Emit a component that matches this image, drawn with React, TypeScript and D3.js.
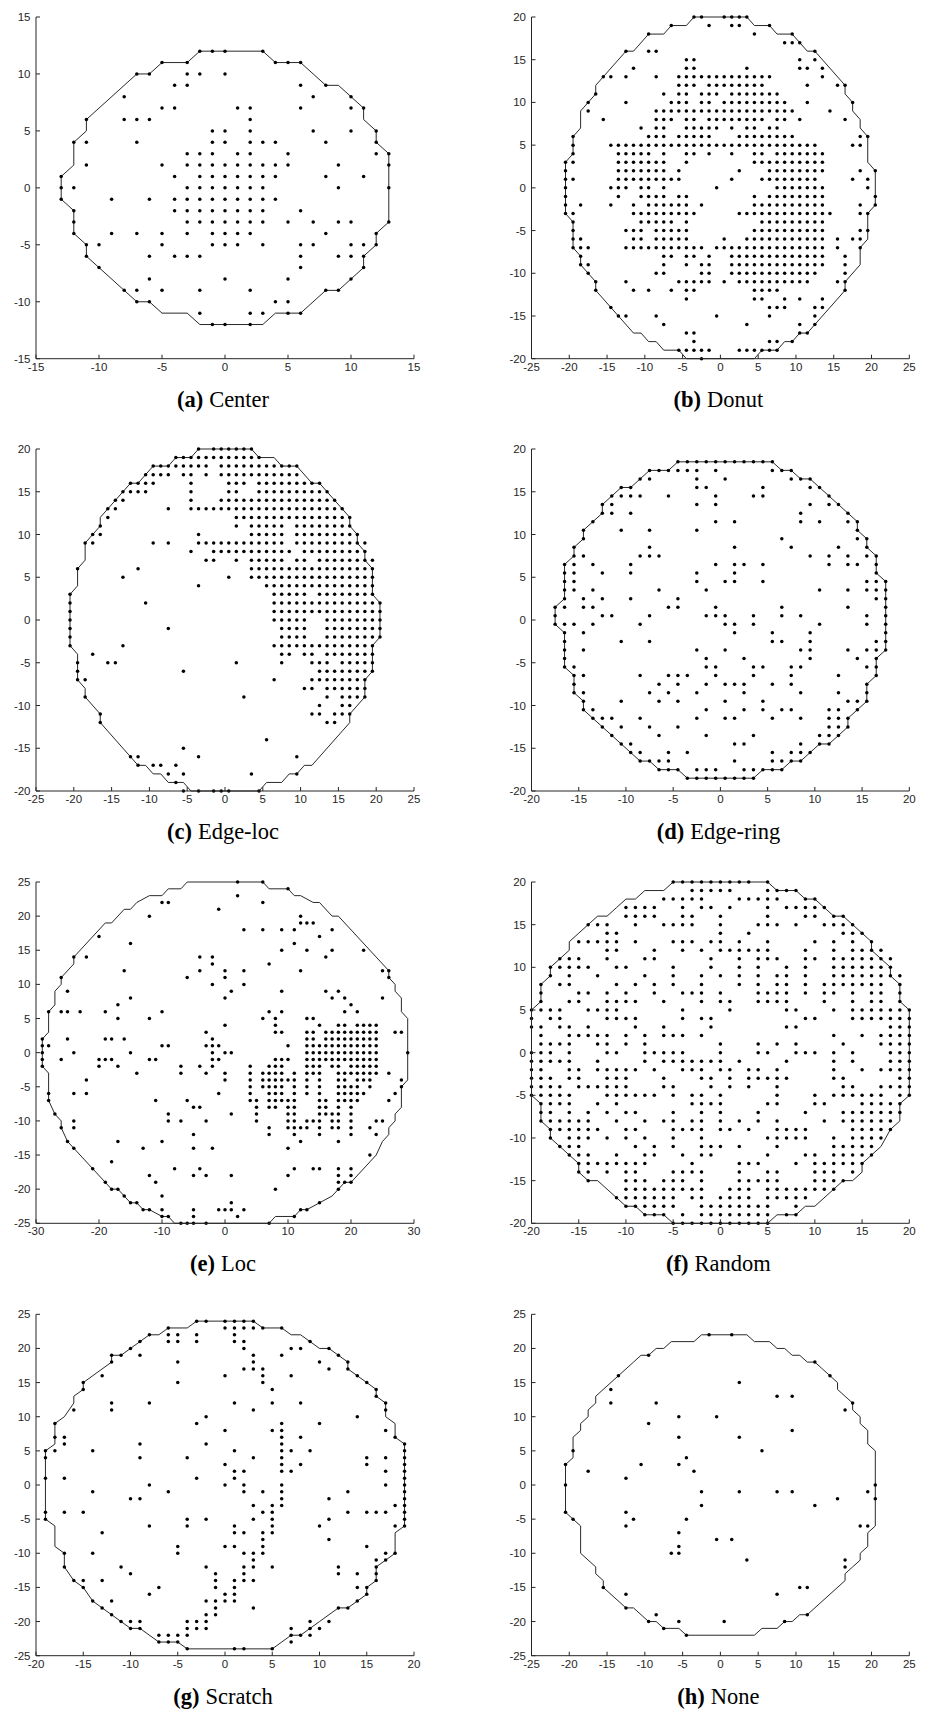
import React from "react";
import * as d3 from "d3";

type Row = [number, string];
type Pt = [number, number];

// tick values
const ticks15 = [-15, -10, -5, 0, 5, 10, 15];
const ticks20 = [-20, -15, -10, -5, 0, 5, 10, 15, 20];
const ticks25 = [-25, -20, -15, -10, -5, 0, 5, 10, 15, 20, 25];
const ticks30 = [-30, -20, -10, 0, 10, 20, 30];

// failing dies, one row per y value; "a..b" = a run of neighbouring dies
const centerRows: Row[] = [
  [12, "-2,-1,0,3"], [11, "-5,-3,4,5,6"], [10, "-7,-6,-3,-2,0"], [9, "-4,-3,6,8"],
  [8, "-8,7,10"], [7, "-5,-4,1,2,6,10,11"], [6, "-11,-8,-7,-6,2"], [5, "-1,0,2,7,10,12"],
  [4, "-12,-11,-7,-1,0,2,3,4,8,12"], [3, "-3,-2,-1,1,2,5,12,13"], [2, "-11,-5,-3..5,9,13"],
  [1, "-13,-4,-2..4,8,11"], [0, "-13,-12,-3..3,9,13"], [-1, "-13,-9,-6,-4..4"],
  [-2, "-12,-4..3,6"], [-3, "-12,-3..3,5,7,9,10,13"], [-4, "-12,-9,-7,-5,-3,-1,0,1,2,8,12"],
  [-5, "-11,-10,-5,-1,0,1,3,6,7,10,11,12"], [-6, "-11,-6,-4,-3,-2,6,9,10,11"], [-7, "-10,6,11"],
  [-8, "-6,0,5,10"], [-9, "-8,-7,-5,-2,2,8,9"], [-10, "-7,-6,4,5"], [-11, "-2,2,3,5,6"], [-12, "-1,0,2"],
];

const donutRows: Row[] = [
  [20, "-3.5,-2.5,0.5,1.5,2.5,3.5"], [19, "-6.5,-1.5,1.5,2.5,6.5"], [18, "-9.5,4.5,9.5"],
  [17, "8.5,9.5,10.5"], [16, "-12.5,-9.5,-8.5,12.5"], [15, "-4.5,-3.5,10.5,12.5"],
  [14, "-11.5,-4.5,-3.5,3.5,10.5,11.5,13.5"], [13, "-15.5,-14.5,-12.5,-8.5,-5.5..6.5,13.5"],
  [12, "-5.5,-4.5,-3.5,-1.5..5.5,11.5,15.5,16.5"], [11, "-16.5,-7.5,-5.5,-4.5,-2.5,-1.5,-0.5,1.5..7.5"],
  [10, "-17.5,-12.5,-6.5,-5.5,-4.5,-2.5,-1.5,0.5..8.5,11.5,17.5"], [9, "-17.5,-8.5..9.5,14.5"],
  [8, "-15.5,-8.5,-7.5,-6.5,-4.5,-3.5,-1.5..5.5,7.5,8.5,10.5,16.5"],
  [7, "-10.5,-8.5,-7.5,-4.5,-3.5,-2.5,-1.5,-0.5,1.5,3.5,4.5,6.5,7.5"],
  [6, "-19.5,-9.5,-8.5,-7.5,-5.5..-1.5,2.5..9.5,18.5,19.5"], [5, "-19.5,-14.5..12.5,17.5,18.5"],
  [4, "-19.5,-13.5..-9.5,-7.5,-4.5,-3.5,-1.5,1.5,4.5,5.5,7.5..13.5"],
  [3, "-20.5,-19.5,-13.5..-7.5,-4.5,4.5..13.5"], [2, "-20.5,-13.5..-7.5,-5.5,2.5,6.5..13.5,18.5,20.5"],
  [1, "-20.5,-19.5,-13.5..-5.5,1.5,5.5..12.5,17.5,19.5"],
  [0, "-20.5,-14.5,-13.5,-12.5,-10.5,-9.5,-7.5,-0.5,7.5..13.5,19.5"],
  [-1, "-20.5,-13.5,-10.5..-7.5,-5.5,-4.5,4.5,6.5..13.5,20.5"],
  [-2, "-20.5,-18.5,-14.5,-11.5,-9.5..-4.5,-2.5,4.5..13.5,18.5,20.5"],
  [-3, "-20.5,-19.5,-11.5..-3.5,2.5..14.5,18.5,19.5"], [-4, "-19.5,-10.5..-6.5,-4.5,5.5..13.5"],
  [-5, "-19.5,-12.5,-11.5,-10.5,-8.5..-4.5,4.5..13.5,18.5,19.5"],
  [-6, "-19.5,-18.5,-11.5,-10.5,-8.5..-4.5,0.5,3.5..13.5,15.5,17.5,18.5"],
  [-7, "-19.5,-18.5,-17.5,-12.5..-2.5,-0.5..13.5,15.5,18.5"],
  [-8, "-18.5,-7.5,-6.5,-4.5,-3.5,-1.5,1.5..13.5,16.5"],
  [-9, "-18.5,-17.5,-7.5,-4.5,-2.5,-1.5,1.5..13.5,16.5"],
  [-10, "-17.5,-8.5,-7.5,-2.5,-1.5,1.5..12.5,16.5"],
  [-11, "-16.5,-12.5,-5.5..-1.5,0.5,2.5..11.5,15.5,16.5"],
  [-12, "-16.5,-11.5,-9.5,-6.5,-4.5,-3.5,4.5..7.5,16.5"], [-13, "-4.5,4.5,5.5,8.5,10.5,13.5"],
  [-14, "-14.5,6.5,7.5,8.5,12.5,13.5"], [-15, "-13.5,-12.5,-8.5,-0.5,6.5,12.5"],
  [-16, "-7.5,3.5,10.5,12.5"], [-17, "-4.5,-3.5,10.5,11.5"], [-18, "-3.5,6.5,7.5,9.5"],
  [-19, "-5.5..-1.5,2.5..7.5"], [-20, "-2.5"],
];

const edgeLocRows: Row[] = [
  [20, "-3.5,-1.5..3.5"], [19, "-6.5..4.5"], [18, "-9.5..-2.5,-0.5..9.5"],
  [17, "-10.5..-7.5,-5.5,-4.5,-2.5,-0.5..9.5"], [16, "-12.5..-9.5,-4.5,0.5,1.5,2.5,4.5..12.5"],
  [15, "-13.5..-10.5,-4.5,0.5,1.5,4.5..13.5"], [14, "-14.5,-13.5,-4.5,-0.5..14.5"],
  [13, "-15.5,-14.5,-7.5,-4.5..15.5"], [12, "-15.5,1.5..16.5"], [11, "-16.5,1.5,3.5..7.5,9.5..16.5"],
  [10, "-17.5,-16.5,-3.5,3.5..7.5,9.5..17.5"], [9, "-18.5,-17.5,-9.5,-7.5,-3.5..7.5,9.5..18.5"],
  [8, "-4.5,-1.5..8.5,10.5..18.5"], [7, "-2.5,-1.5,1.5,3.5..7.5,9.5,10.5,12.5..19.5"],
  [6, "-19.5,-11.5,3.5..19.5"], [5, "-13.5,0.5,3.5..19.5"], [4, "-3.5,5.5..19.5"],
  [3, "-20.5,6.5..10.5,12.5..19.5"], [2, "-20.5,-10.5,6.5..20.5"], [1, "-20.5,6.5..20.5"],
  [0, "-20.5,6.5..10.5,13.5..20.5"], [-1, "-20.5,-7.5,7.5..10.5,13.5..20.5"],
  [-2, "-20.5,7.5..10.5,13.5..20.5"], [-3, "-20.5,-13.5,6.5..19.5"],
  [-4, "-17.5,7.5,8.5,10.5,11.5,13.5..19.5"], [-5, "-19.5,-15.5,-14.5,1.5,7.5,11.5..13.5,15.5..19.5"],
  [-6, "-19.5,-5.5,12.5..19.5"], [-7, "-19.5,-18.5,6.5,11.5..18.5"], [-8, "10.5,11.5,13.5..18.5"],
  [-9, "-18.5,2.5,13.5,15.5..18.5"], [-10, "12.5,15.5,16.5"], [-11, "-16.5,11.5,12.5,14.5,15.5,16.5"],
  [-12, "-16.5,13.5,14.5"], [-14, "5.5"], [-15, "-5.5"], [-16, "-12.5,-11.5,-3.5,9.5"],
  [-17, "-11.5,-9.5,-8.5,-6.5"], [-18, "-7.5,-5.5,3.5,9.5"], [-19, "-6.5"],
  [-20, "-5.5,-3.5,-1.5,-0.5,0.5,4.5"],
];

const edgeRingRows: Row[] = [
  [18.5, "-4.5..5.5"], [17.5, "-7.5..-2.5,-0.5,5.5,6.5,7.5"], [16.5, "-8.5,-7.5,-2.5,0.5,7.5,8.5,9.5"],
  [15.5, "-10.5,-9.5,-2.5,-1.5,4.5,9.5,10.5"], [14.5, "-11.5..-8.5,-5.5,-0.5,3.5,4.5,11.5"],
  [13.5, "-12.5,-11.5,-2.5,-0.5,9.5,11.5,12.5"], [12.5, "-12.5,-11.5,-9.5,8.5,13.5"],
  [11.5, "-13.5,-0.5,1.5,8.5,10.5,13.5,14.5"], [10.5, "-14.5,-10.5,-7.5,-2.5,14.5"],
  [9.5, "-14.5,6.5,14.5,15.5"], [8.5, "-15.5,-7.5,1.5,7.5,12.5,15.5"],
  [7.5, "-15.5,-14.5,-8.5,-7.5,-6.5,9.5,11.5,13.5,15.5,16.5"],
  [6.5, "-16.5,-15.5,-13.5,-9.5,-0.5,1.5,2.5,4.5,11.5,13.5,14.5,16.5"],
  [5.5, "-16.5,-15.5,-12.5,-9.5,-2.5,1.5,16.5"], [4.5, "-16.5,-15.5,-2.5,0.5,1.5,4.5,15.5,16.5,17.5"],
  [3.5, "-16.5,-15.5,-13.5,-6.5,-1.5,10.5,13.5,15.5,16.5,17.5"],
  [2.5, "-16.5,-14.5,-12.5,-9.5,-4.5,16.5,17.5"],
  [1.5, "-17.5,-16.5,-14.5,-13.5,-5.5,-4.5,-0.5,6.5,13.5,17.5"],
  [0.5, "-17.5,-12.5,-11.5,-7.5,-1.5,-0.5,0.5,3.5,6.5,8.5,15.5,17.5"],
  [-0.5, "-17.5,-16.5,-15.5,-13.5,-8.5,0.5,1.5,3.5,10.5,15.5,17.5"],
  [-1.5, "-16.5,-14.5,1.5,5.5,9.5,17.5"], [-2.5, "-16.5,-10.5,-7.5,5.5,6.5,9.5,16.5,17.5"],
  [-3.5, "-16.5,-14.5,-2.5,0.5,8.5,9.5,13.5,15.5,16.5,17.5"], [-4.5, "-16.5,-1.5,2.5,9.5,14.5,16.5"],
  [-5.5, "-16.5,-15.5,-1.5,-0.5,3.5,4.5,7.5,8.5,15.5,16.5"],
  [-6.5, "-15.5,-14.5,-8.5,-5.5,-4.5,-3.5,-0.5,3.5,7.5,12.5,16.5"],
  [-7.5, "-15.5,-6.5,-4.5,-1.5,0.5,1.5,2.5,5.5,7.5,15.5"],
  [-8.5, "-15.5,-14.5,-7.5,-5.5,-2.5,2.5,8.5,12.5,15.5"],
  [-9.5, "-14.5,-10.5,-6.5,-4.5,0.5,4.5,13.5,14.5,15.5"],
  [-10.5, "-14.5,-13.5,-1.5,2.5,4.5,6.5,7.5,11.5,12.5,14.5"],
  [-11.5, "-13.5,-12.5,-11.5,-8.5,-2.5,0.5,1.5,5.5,8.5,11.5,12.5,13.5"],
  [-12.5, "-12.5,-10.5,-7.5,-4.5,11.5,12.5,13.5"], [-13.5, "-11.5,-6.5,-1.5,3.5,10.5,11.5,12.5"],
  [-14.5, "-10.5,-9.5,1.5,2.5,8.5,10.5,11.5"], [-15.5, "-9.5,-8.5,-5.5,-3.5,5.5,7.5,8.5,9.5"],
  [-16.5, "-8.5..-5.5,1.5,5.5..8.5"], [-17.5, "-6.5,-5.5,-4.5,-2.5,-1.5,-0.5,2.5..6.5"],
  [-18.5, "-3.5..3.5"],
];

const locRows: Row[] = [
  [25, "2,6"], [24, "10"], [23, "2"], [22, "-10,-9,6"], [21, "-1"], [20, "-12,12"], [19, "12,13,14"],
  [18, "3,6,9,11,17"], [17, "-20,15"], [16, "-15,11"], [15, "9,13,17,22"], [14, "-24,-22,-4,-2,16"],
  [13, "-2,7"], [12, "-16,-4,0,3,12,25,26"], [11, "-26,-6,0,26"], [10, "-2,3"], [9, "-25,1,9,16,18"],
  [8, "-15,0,17,19,25"], [7, "-17,20"], [6, "-28,-26,-25,-23,-19,-10,7,9,19,21"],
  [5, "-17,-12,6,8,13,14"], [4, "0,8,15,18,19,21..24"], [3, "-3,8,9,13,14,16..24,27,28"],
  [2, "-29,-25,-19,-18,-16,-2,13,14,16..24"], [1, "-29,-28,-10,-9,-3,-2,-1,10,13..24"],
  [0, "-29,-24,-15,-2,0,1,13..24,29"], [-1, "-29,-26,-20,-19,-18,-12,-11,-2,-1,8,9,10,13..24"],
  [-2, "-29,-20,-17,-7,-4,-2,4,7,8,9,13,14,15,17,18,20..24"],
  [-3, "-14,-7,-3,0,4,6..9,11,13,14,15,18..24,26"], [-4, "-22,0,4,6..11,13,15,18,19,21,22,23,28"],
  [-5, "4,6..9,11,13,15,18..21,23,28"], [-6, "-28,-24,-22,-1,4,7,8,9,11,13,15,18..22,27"],
  [-7, "-28,-11,-6,4,5,7..11,15,16,18..21,26"], [-8, "-5,-4,5,7,8,10,11,15,16,18,20"],
  [-9, "-27,-9,1,5,10,11,15..18,20"], [-10, "-24,-9,-7,-3,5,10,11,13,14,15,17,18,20,24,25"],
  [-11, "-26,-24,7,10..13,15,17,18,20,23"], [-12, "-5,7,11,15,20,24"], [-13, "-25,-17,-10,12,18"],
  [-14, "-24,-13,-5,-2,10"], [-15, "23"], [-16, "-18"], [-17, "-21,-8,-4,11,14,15,18,20"],
  [-18, "-12,-5,-3,1,10,18,20"], [-19, "-19,-11,18,19,20"], [-20, "-18,-17,8,18"], [-21, "-16,-10"],
  [-22, "-15,-14,1,15"], [-23, "-13,-12,-10,-5,-1,0,1,3,12,13"], [-24, "-10,-9,-5,2,11"],
  [-25, "-7,-6,-5,-3,7"],
];

const randomRows: Row[] = [
  [20, "-5..3,5"], [19, "-3..1,5..8"], [18, "-6..-2,2..6,9,10"], [17, "-10..-7,-4,-2,-1,1,5,7..11"],
  [16, "-10..-7,-4,-3,0,5,9,10,12,13"], [15, "-14,-13,-12,-9,-6..-3,0,4,5,6,8,11..14"],
  [14, "-12,-11,0,3,13,14,15"], [13, "-15..-11,-9,-5,-4,-3,-1,0,2,5,10,12,14,16"],
  [12, "-12,-11,-7,-4,-2,0..5,9,12,14..17"], [11, "-17,-16,-15,-12,-8,-7,-1,2,4,5,6,9,10,12..18"],
  [10, "-18..-14,-11,-10,-5,-1,2,4,7,9,12..18"], [9, "-18,-16,-13,-8,-5,-2,0,2,4,6,7,9,12..19"],
  [8, "-19,-17,-16,-11,-9,-7,-5,-2,2,4,6,7,9,11..17,19"],
  [7, "-19,-15,-14,-12,-10,-7,-4,-3,-2,0,4..7,9,11,12,14,16,17,19"],
  [6, "-19,-16,-15,-12..-9,-6,-2,0,1,4..7,11,14,16,17,19"],
  [5, "-20..-17,-14..-11,-4,1,7,8,12,14..20"], [4, "-20,-18,-17,-12..-9,-4,-2,-1,9,10,14..20"],
  [3, "-20,-19,-17,-16,-14,-9,-6,-1,7,8,18,19,20"],
  [2, "-19,-16..-12,-10,-8,-6,-5,-4,-2,12,15,17..20"], [1, "-19..-16,-13,-12,-10,-8,0,4,6,8,13,17..20"],
  [0, "-20,-19,-18,-16,-12,-11,-8..-4,0,4,5,8,9,10,12,14,18,19,20"],
  [-1, "-20..-16,-13,-8,-6..0,2,7,12,14,18,19,20"],
  [-2, "-20,-19,-16,-15,-13..-9,-7,-4,-3,-2,0,1,3,4,6,12,15,17..20"],
  [-3, "-20,-19,-18,-16,-15,-12,-11,-10,-6,-2,-1,1,3..7,12,13,19,20"],
  [-4, "-20..-17,-15..-10,-6,-5,-1,1,3,6,13,14,17..20"],
  [-5, "-20..-16,-12..-7,-5,-3,-2,0,6,10,12..17,19,20"],
  [-6, "-19..-16,-13,-11,-3..0,5,6,10,11,15..19"],
  [-7, "-19,-18,-16,-14,-12,-10,-9,-5,-2,0,4,9,13..19"],
  [-8, "-19..-14,-11,-8,-6,-5,-3,-2,0,2,4,6,11,13..18"],
  [-9, "-18..-13,-10,-9,-5..-2,0,1,3,6..9,14..18"], [-10, "-18,-16,-15,-14,-12,-10,-8,-5,-2,5..9,12,14..17"],
  [-11, "-17,-16,-15,-9,-7,-5,-2,-1,0,2,6,12..16"], [-12, "-16,-15,-14,-11,-8,-7,-4,-2,-1,5,9,10,12..16"],
  [-13, "-15..-8,-3,2,3,4,8,10..15"], [-14, "-15,-14,-12,-10,-9,-5..-2,2,5,6,10,11,12,14"],
  [-15, "-14,-10,-9,-8,-6,-5,-4,-2,2..6,10..13"], [-16, "-10..-4,-3,-2,1,2,3,5..12"],
  [-17, "-11..-5,-3,-2,0..3,5..9"], [-18, "-10..-5,-2..5,8"], [-19, "-8,-7,-6,-4,-2..5,7,8"],
  [-20, "-5..5"],
];

const scratchRows: Row[] = [
  [24, "-3,-2,0,1,2,3"], [23, "-6,0,1,2,3,4,6"], [22, "-8,-6,-5,-3,1"], [21, "-9,-6,-5,-3,1,2,9"],
  [20, "-10,2,7,8,11"], [19, "-12,-11,-9,3,6,12"], [18, "-12,-5,3,10,13"], [17, "2,3,4,11,13"],
  [16, "-13,0,4,7,14"], [15, "-15,-5,4,15"], [14, "-15,5,16"], [13, "16"], [12, "-12,-8,1,5,8,17"],
  [11, "-16,-12,3,17"], [10, "-2,14"], [9, "-18,-3,6,10"], [8, "0,5,6,17"], [7, "-18,-17,6,8,18"],
  [6, "-17,-9,-2,6,19"], [5, "-19,-18,-14,1,6,7,9,19"], [4, "-19,-9,-4,3,6,15,17,19"],
  [3, "0,6,8,15,19"], [2, "1,2,6,7,17,19"], [1, "-19,-17,-3,1,19"], [0, "-8,0,2,6,17,19"],
  [-1, "-14,-6,2,4,6,13,19"], [-2, "-10,-9,6,11,19"], [-3, "3,5,6,18,19"],
  [-4, "-19,-17,-15,4,5,13,15,16,17,19"], [-5, "-19,-4,-2,3,5,11,19"], [-6, "-8,-4,1,5,10,18,19"],
  [-7, "-13,1,2,4,5"], [-8, "4,11"], [-9, "-5,0,1,4,15"], [-10, "-17,-14,-5,2,3,4,17,18"],
  [-11, "3,16,17"], [-12, "-17,-11,-2,2,3,5,12,16"], [-13, "-10,-1,2,12,14,16"],
  [-14, "-16,-15,-13,-1,1,2,3,16"], [-15, "-15,-7,-1,1,14,15"], [-16, "-8,0,1,15"],
  [-17, "-14,-12,-2,-1,0,1,14"], [-18, "-13,-1,3,12,13"], [-19, "-12,-2,-1"],
  [-20, "-11,-10,-9,-4,-3,-2,9,11"], [-21, "-10,-9,-4,-3,-2,7,9,10"], [-22, "-7,-6,-5,-4,7,8,9"],
  [-23, "-7,-6,-5,7"], [-24, "-4,1,2,5"],
];

const noneRows: Row[] = [
  [22, "-1.5,1.5"], [19, "-9.5"], [18, "12.5"], [16, "-13.5,14.5"], [15, "2.5"], [14, "-14.5"],
  [13, "7.5,9.5"], [12, "-14.5,-8.5,17.5"], [11, "16.5"], [10, "-5.5,-0.5"], [9, "-9.5"], [8, "9.5"],
  [7, "-5.5,2.5"], [5, "-19.5,5.5"], [4, "-4.5"], [3, "-20.5,-10.5,-5.5"], [2, "-17.5,-3.5"],
  [1, "-12.5"], [0, "-20.5,20.5"], [-1, "-2.5,2.5,7.5,9.5,19.5"], [-2, "15.5,20.5"], [-3, "-2.5,12.5"],
  [-4, "-20.5,-12.5"], [-5, "-19.5,-11.5,-4.5"], [-6, "-12.5,18.5,19.5"], [-7, "-5.5"],
  [-8, "-0.5,1.5"], [-9, "-5.5"], [-10, "-6.5,-5.5"], [-11, "3.5,16.5"], [-12, "16.5"],
  [-15, "-15.5,10.5,11.5"], [-16, "-12.5,7.5"], [-18, "-12.5"], [-19, "-8.5,11.5"],
  [-20, "-9.5,-5.5,0.5,8.5"], [-21, "-7.5"], [-22, "-4.5"],
];

// wafer outlines
const centerOutline: Pt[] = [
  [-2, 12], [3, 12], [4, 11], [6, 11], [8, 9], [9, 9], [10, 8], [11, 7], [11, 6], [12, 5], [12, 4], [13, 3],
  [13, -3], [12, -4], [12, -5], [11, -6], [11, -7], [10, -8], [9, -9], [8, -9], [6, -11], [4, -11], [3, -12],
  [-2, -12], [-3, -11], [-5, -11], [-6, -10], [-7, -10], [-8, -9], [-10, -7], [-11, -6], [-11, -5], [-12, -4],
  [-12, -2], [-13, -1], [-13, 1], [-12, 2], [-12, 4], [-11, 5], [-11, 6], [-7, 10], [-6, 10], [-5, 11], [-3, 11],
];

const wafer41Outline: Pt[] = [
  [-3.5, 20], [3.5, 20], [4.5, 19], [6.5, 19], [7.5, 18], [9.5, 18], [11.5, 16], [12.5, 16], [16.5, 12],
  [16.5, 11], [17.5, 10], [17.5, 9], [18.5, 8], [18.5, 7], [19.5, 6], [19.5, 3], [20.5, 2], [20.5, -2],
  [19.5, -3], [19.5, -6], [18.5, -7], [18.5, -9], [16.5, -11], [16.5, -12], [11.5, -17], [10.5, -17],
  [9.5, -18], [8.5, -18], [7.5, -19], [5.5, -19], [4.5, -20], [-4.5, -20], [-5.5, -19], [-7.5, -19],
  [-8.5, -18], [-9.5, -18], [-10.5, -17], [-11.5, -17], [-16.5, -12], [-16.5, -11], [-18.5, -9],
  [-18.5, -8], [-19.5, -7], [-19.5, -4], [-20.5, -3], [-20.5, 3], [-19.5, 4], [-19.5, 6], [-18.5, 7],
  [-18.5, 9], [-17.5, 10], [-16.5, 11], [-16.5, 12], [-15.5, 13], [-12.5, 16], [-11.5, 16], [-9.5, 18],
  [-7.5, 18], [-6.5, 19], [-4.5, 19],
];

const edgeRingOutline: Pt[] = [
  [-4.5, 18.5], [5.5, 18.5], [6.5, 17.5], [7.5, 17.5], [8.5, 16.5], [9.5, 16.5], [13.5, 12.5], [14.5, 11.5],
  [14.5, 10.5], [15.5, 9.5], [15.5, 8.5], [16.5, 7.5], [16.5, 5.5], [17.5, 4.5], [17.5, -3.5], [16.5, -4.5],
  [16.5, -6.5], [15.5, -7.5], [15.5, -9.5], [14.5, -10.5], [13.5, -11.5], [13.5, -12.5], [11.5, -14.5],
  [10.5, -14.5], [8.5, -16.5], [7.5, -16.5], [6.5, -17.5], [4.5, -17.5], [3.5, -18.5], [-3.5, -18.5],
  [-4.5, -17.5], [-6.5, -17.5], [-7.5, -16.5], [-8.5, -16.5], [-14.5, -10.5], [-14.5, -9.5], [-15.5, -8.5],
  [-15.5, -6.5], [-16.5, -5.5], [-16.5, -1.5], [-17.5, -0.5], [-17.5, 1.5], [-16.5, 2.5], [-16.5, 6.5],
  [-15.5, 7.5], [-15.5, 8.5], [-14.5, 9.5], [-14.5, 10.5], [-13.5, 11.5], [-12.5, 12.5], [-12.5, 13.5],
  [-10.5, 15.5], [-9.5, 15.5], [-7.5, 17.5], [-5.5, 17.5],
];

const locOutline: Pt[] = [
  [-6, 25], [6, 25], [7, 24], [10, 24], [11, 23], [12, 23], [14, 22], [15, 22], [17, 20], [18, 20], [26, 12],
  [26, 11], [27, 10], [27, 9], [28, 8], [28, 6], [29, 5], [29, -4], [28, -5], [28, -8], [27, -9], [27, -10],
  [26, -11], [26, -12], [25, -13], [24, -15], [23, -16], [20, -19], [19, -19], [18, -20], [17, -21], [15, -22],
  [13, -23], [12, -23], [11, -24], [8, -24], [7, -25], [-8, -25], [-9, -24], [-10, -24], [-12, -23], [-13, -23],
  [-14, -22], [-15, -22], [-16, -21], [-17, -20], [-18, -20], [-19, -19], [-21, -17], [-24, -14], [-25, -13],
  [-26, -11], [-26, -10], [-27, -9], [-28, -7], [-28, -3], [-29, -2], [-29, 2], [-28, 3], [-28, 6], [-27, 7],
  [-27, 9], [-26, 10], [-26, 11], [-24, 13], [-24, 14], [-19, 19], [-18, 19], [-16, 21], [-15, 21], [-14, 22],
  [-12, 23], [-10, 23], [-9, 24], [-7, 24],
];

const randomOutline: Pt[] = [
  [-5, 20], [5, 20], [6, 19], [8, 19], [9, 18], [10, 18], [12, 16], [13, 16], [15, 14], [16, 13], [16, 12],
  [17, 11], [18, 10], [18, 9], [19, 8], [19, 6], [20, 5], [20, -5], [19, -6], [19, -8], [18, -9], [17, -11],
  [16, -12], [15, -13], [15, -14], [14, -15], [13, -15], [12, -16], [10, -18], [9, -18], [8, -19], [6, -19],
  [5, -20], [-5, -20], [-6, -19], [-8, -19], [-9, -18], [-10, -18], [-11, -17], [-12, -16], [-13, -15],
  [-14, -15], [-15, -14], [-15, -13], [-16, -12], [-17, -11], [-18, -10], [-18, -9], [-19, -8], [-19, -6],
  [-20, -5], [-20, 5], [-19, 6], [-19, 8], [-18, 9], [-18, 10], [-17, 11], [-16, 12], [-16, 13], [-15, 14],
  [-14, 15], [-13, 16], [-12, 16], [-11, 17], [-10, 18], [-9, 18], [-8, 19], [-6, 19],
];

const scratchOutline: Pt[] = [
  [-3, 24], [3, 24], [4, 23], [6, 23], [7, 22], [8, 22], [10, 20], [11, 20], [13, 18], [13, 17], [15, 15],
  [16, 14], [16, 13], [17, 12], [17, 10], [18, 9], [18, 7], [19, 6], [19, -6], [18, -7], [18, -10], [17, -11],
  [16, -12], [16, -14], [15, -15], [15, -16], [13, -18], [12, -18], [10, -20], [9, -21], [8, -22], [7, -22],
  [6, -23], [5, -24], [-4, -24], [-5, -23], [-7, -23], [-9, -21], [-10, -21], [-11, -20], [-13, -18],
  [-14, -17], [-15, -15], [-16, -14], [-17, -12], [-17, -10], [-18, -9], [-18, -6], [-19, -5], [-19, 5],
  [-18, 6], [-18, 9], [-17, 10], [-16, 12], [-16, 13], [-15, 14], [-15, 15], [-12, 18], [-12, 19], [-11, 19],
  [-9, 21], [-8, 22], [-7, 22], [-6, 23], [-4, 23],
];

const noneOutline: Pt[] = [
  [-2.5, 22], [3.5, 22], [4.5, 21], [6.5, 21], [7.5, 20], [8.5, 20], [9.5, 19], [10.5, 19], [11.5, 18],
  [12.5, 18], [13.5, 17], [14.5, 16], [15.5, 15], [15.5, 14], [16.5, 13], [17.5, 12], [17.5, 11], [18.5, 10],
  [18.5, 9], [19.5, 8], [19.5, 6], [20.5, 5], [20.5, -6], [19.5, -7], [19.5, -9], [18.5, -10], [18.5, -11],
  [17.5, -12], [16.5, -13], [16.5, -14], [11.5, -19], [10.5, -19], [9.5, -20], [8.5, -20], [7.5, -21],
  [5.5, -21], [4.5, -22], [-4.5, -22], [-5.5, -21], [-7.5, -21], [-8.5, -20], [-9.5, -20], [-11.5, -18],
  [-12.5, -18], [-15.5, -15], [-15.5, -14], [-16.5, -13], [-16.5, -12], [-18.5, -10], [-18.5, -6],
  [-19.5, -5], [-20.5, -4], [-20.5, 3], [-19.5, 4], [-19.5, 7], [-18.5, 8], [-18.5, 9], [-17.5, 10],
  [-17.5, 11], [-16.5, 12], [-16.5, 13], [-13.5, 16], [-11.5, 18], [-10.5, 19], [-9.5, 19], [-8.5, 20],
  [-7.5, 20], [-6.5, 21], [-3.5, 21],
];

type PanelDef = {
  letter: string;
  name: string;
  col: number;
  row: number;
  xDom: [number, number];
  yDom: [number, number];
  xTicks: number[];
  yTicks: number[];
  rows: Row[];
  outline: Pt[];
};

const panels: PanelDef[] = [
  { letter: "a", name: "Center", col: 0, row: 0, xDom: [-15, 15], yDom: [-15, 15], xTicks: ticks15, yTicks: ticks15, rows: centerRows, outline: centerOutline },
  { letter: "b", name: "Donut", col: 1, row: 0, xDom: [-25, 25], yDom: [-20, 20], xTicks: ticks25, yTicks: ticks20, rows: donutRows, outline: wafer41Outline },
  { letter: "c", name: "Edge-loc", col: 0, row: 1, xDom: [-25, 25], yDom: [-20, 20], xTicks: ticks25, yTicks: ticks20, rows: edgeLocRows, outline: wafer41Outline },
  { letter: "d", name: "Edge-ring", col: 1, row: 1, xDom: [-20, 20], yDom: [-20, 20], xTicks: ticks20, yTicks: ticks20, rows: edgeRingRows, outline: edgeRingOutline },
  { letter: "e", name: "Loc", col: 0, row: 2, xDom: [-30, 30], yDom: [-25, 25], xTicks: ticks30, yTicks: ticks25, rows: locRows, outline: locOutline },
  { letter: "f", name: "Random", col: 1, row: 2, xDom: [-20, 20], yDom: [-20, 20], xTicks: ticks20, yTicks: ticks20, rows: randomRows, outline: randomOutline },
  { letter: "g", name: "Scratch", col: 0, row: 3, xDom: [-20, 20], yDom: [-25, 25], xTicks: ticks20, yTicks: ticks25, rows: scratchRows, outline: scratchOutline },
  { letter: "h", name: "None", col: 1, row: 3, xDom: [-25, 25], yDom: [-25, 25], xTicks: ticks25, yTicks: ticks25, rows: noneRows, outline: noneOutline },
];

const colX: [number, number][] = [[36, 414], [531.5, 909.3]];
const rowY: [number, number][] = [[17, 358.7], [449, 791], [882, 1223.3], [1314.3, 1655.7]];

const AXIS = "#262626";
const SANS = "'Liberation Sans', Arial, Helvetica, sans-serif";
const SERIF = "'Liberation Serif', 'Times New Roman', Times, serif";

function expand(spec: string): number[] {
  const out: number[] = [];
  spec.split(",").forEach((part) => {
    const p = part.trim();
    if (!p) return;
    const m = p.split("..");
    if (m.length === 2) {
      for (let v = +m[0]; v <= +m[1] + 1e-9; v += 1) out.push(v);
    } else out.push(+p);
  });
  return out;
}

const Panel = ({ p }: { p: PanelDef }) => {
  const [x0, x1] = colX[p.col];
  const [yTop, yBot] = rowY[p.row];
  const x = d3.scaleLinear().domain(p.xDom).range([x0, x1]);
  const y = d3.scaleLinear().domain(p.yDom).range([yBot, yTop]);
  const pts: Pt[] = [];
  p.rows.forEach(([yy, spec]) => expand(spec).forEach((xx) => pts.push([xx, yy])));
  const line = d3.line<Pt>().x((d) => x(d[0])).y((d) => y(d[1])).curve(d3.curveLinearClosed);
  const tl = 4;
  return (
    <g>
      <path d={line(p.outline) || ""} fill="none" stroke="#111" strokeWidth={0.9} />
      {pts.map((d, i) => (
        <circle key={i} cx={x(d[0])} cy={y(d[1])} r={1.75} fill="#000" />
      ))}
      <line x1={x0} x2={x0} y1={yTop} y2={yBot} stroke={AXIS} strokeWidth={1} />
      <line x1={x0} x2={x1} y1={yBot} y2={yBot} stroke={AXIS} strokeWidth={1} />
      {p.yTicks.map((t) => (
        <g key={"y" + t}>
          <line x1={x0} x2={x0 + tl} y1={y(t)} y2={y(t)} stroke={AXIS} strokeWidth={1} />
          <text x={x0 - 5.5} y={y(t)} dy="0.35em" textAnchor="end" fontFamily={SANS} fontSize={11.5} fill={AXIS}>
            {t}
          </text>
        </g>
      ))}
      {p.xTicks.map((t) => (
        <g key={"x" + t}>
          <line x1={x(t)} x2={x(t)} y1={yBot} y2={yBot - tl} stroke={AXIS} strokeWidth={1} />
          <text x={x(t)} y={yBot + 12} textAnchor="middle" fontFamily={SANS} fontSize={11.5} fill={AXIS}>
            {t}
          </text>
        </g>
      ))}
      <text x={(x0 + x1) / 2 - 2} y={yBot + 48} textAnchor="middle" fontFamily={SERIF} fontSize={22.5} fill="#000">
        <tspan fontWeight="bold">({p.letter})</tspan>
        <tspan dx={6}>{p.name}</tspan>
      </text>
    </g>
  );
};

export default function App() {
  return (
    <svg
      width={930}
      height={1713}
      viewBox="0 0 930 1713"
      style={{ position: "absolute", left: 0, top: 0, background: "#fff", display: "block" }}
    >
      <rect x={0} y={0} width={930} height={1713} fill="#fff" />
      {panels.map((p) => (
        <Panel key={p.letter} p={p} />
      ))}
    </svg>
  );
}
